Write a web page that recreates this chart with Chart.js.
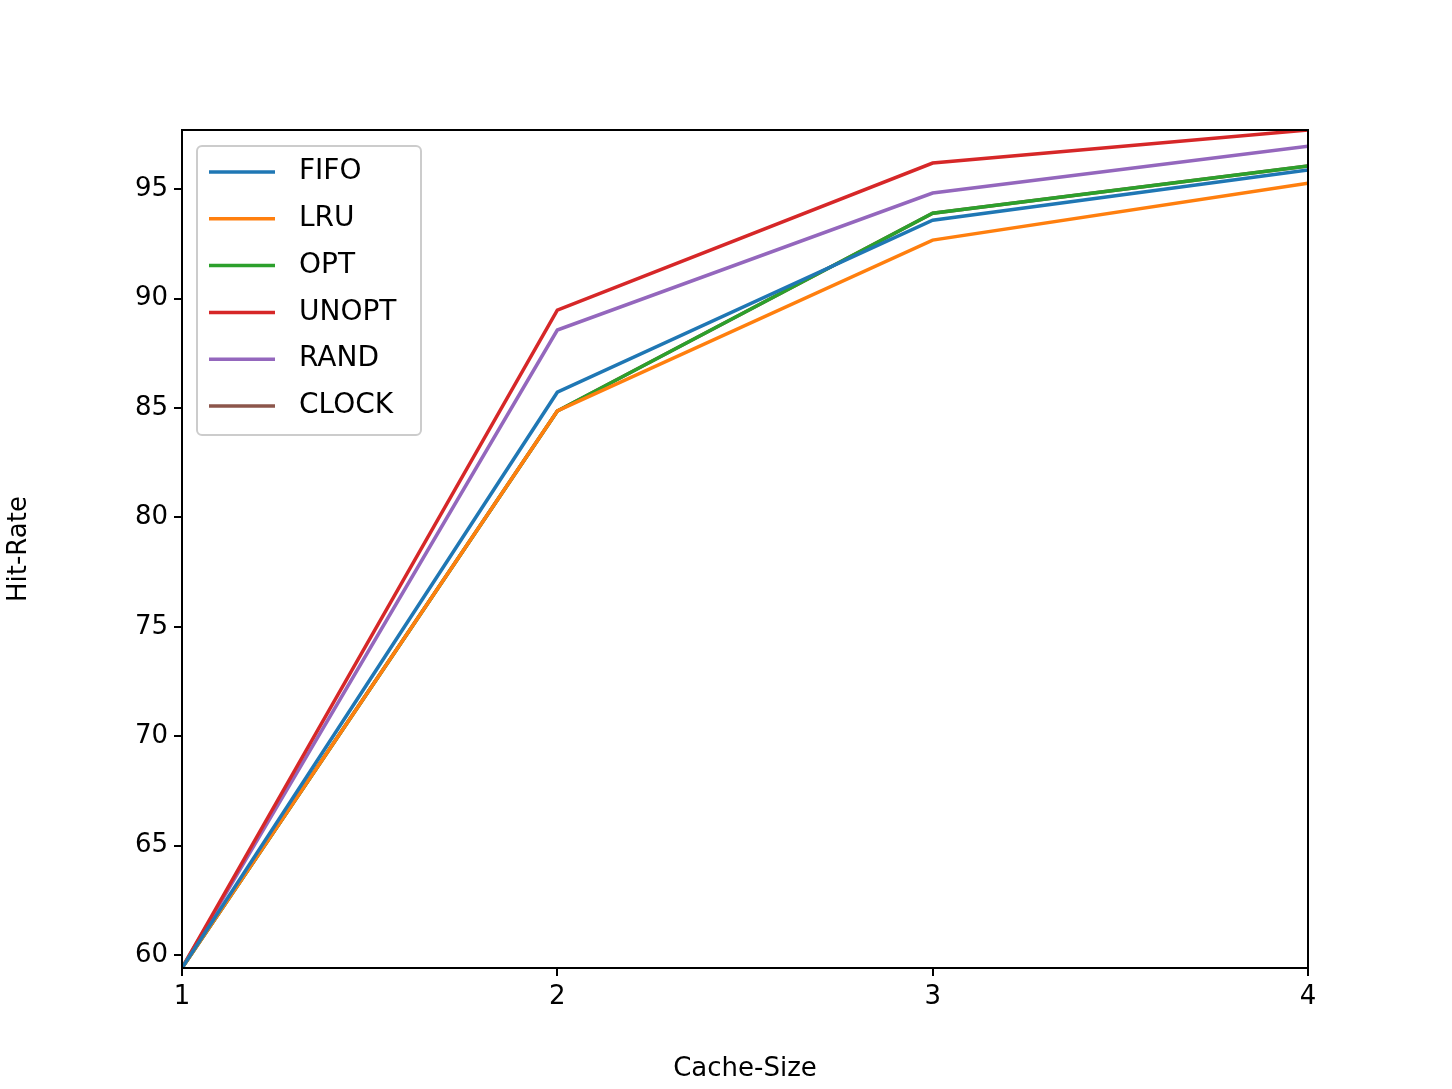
<!DOCTYPE html>
<html>
<head>
<meta charset="utf-8">
<script src="https://cdn.jsdelivr.net/npm/chart.js@4"></script>
<style>
  html, body { margin: 0; padding: 0; background: #fff; }
  #wrap { width: 1452px; height: 1089px; }
</style>
</head>
<body>
<div id="wrap"><canvas id="myChart"></canvas></div>
<script>
// ---------- data ----------
const cacheSizes = [1, 2, 3, 4];
const fifo  = [59.41, 85.72, 93.58, 95.87];
const lru   = [59.41, 84.86, 92.67, 95.27];
const opt   = [59.41, 84.86, 93.90, 96.05];
const unopt = [59.41, 89.47, 96.19, 97.70];
const rand  = [59.41, 88.56, 94.82, 96.96];
const clock = [59.41, 84.86, 93.90, 96.05];
const yTicks = [60, 65, 70, 75, 80, 85, 90, 95];

const seriesNames = ['FIFO', 'LRU', 'OPT', 'UNOPT', 'RAND', 'CLOCK'];
const seriesData = [fifo, lru, opt, unopt, rand, clock];
const colors = ['#1f77b4', '#ff7f0e', '#2ca02c', '#d62728', '#9467bd', '#8c564b'];

const FONT = 'DejaVu Sans';

// frame + legend drawn inside the plot area
const framePlugin = {
  id: 'frame',
  afterDraw(chart) {
    const { ctx, chartArea: a } = chart;
    ctx.save();
    ctx.strokeStyle = '#000';
    ctx.lineWidth = 2;
    ctx.strokeRect(a.left, a.top, a.right - a.left, a.bottom - a.top);

    // legend box
    const bx = a.left + 15, by = a.top + 16, bw = 224, bh = 289;
    ctx.fillStyle = 'rgba(255,255,255,0.8)';
    ctx.strokeStyle = '#cccccc';
    ctx.lineWidth = 2;
    ctx.beginPath();
    ctx.roundRect(bx, by, bw, bh, 5);
    ctx.fill();
    ctx.stroke();
    ctx.font = '28px "' + FONT + '"';
    ctx.textBaseline = 'middle';
    chart.data.datasets.forEach((ds, i) => {
      const y = by + 26 + i * 46.8;
      ctx.strokeStyle = ds.borderColor;
      ctx.lineWidth = 3.5;
      ctx.beginPath();
      ctx.moveTo(bx + 12, y);
      ctx.lineTo(bx + 78, y);
      ctx.stroke();
      ctx.fillStyle = '#000';
      ctx.fillText(ds.label, bx + 102, y);
    });
    ctx.restore();
  },
};

const ctx = document.getElementById('myChart').getContext('2d');
new Chart(ctx, {
  type: 'line',
  data: {
    datasets: seriesNames.map((name, i) => ({
      label: name,
      data: cacheSizes.map((x, j) => ({ x: x, y: seriesData[i][j] })),
      borderColor: colors[i],
      backgroundColor: colors[i],
      borderWidth: 3.5,
      pointRadius: 0,
      tension: 0,
    })),
  },
  options: {
    responsive: true,
    maintainAspectRatio: false,
    animation: false,
    layout: { padding: { left: 0, right: 144, top: 130, bottom: 0 } },
    plugins: { legend: { display: false }, tooltip: { enabled: false } },
    scales: {
      x: {
        type: 'linear',
        min: 1,
        max: 4,
        afterBuildTicks: (s) => { s.ticks = cacheSizes.map((v) => ({ value: v })); },
        afterFit: (s) => { s.height = 121; },
        grid: { drawOnChartArea: false, tickLength: 8, color: '#000', lineWidth: 2 },
        border: { display: false },
        ticks: { color: '#000', font: { family: FONT, size: 26 }, padding: 6, maxRotation: 0 },
        title: { display: true, text: 'Cache-Size', color: '#000', font: { family: FONT, size: 26 }, padding: { top: 8 } },
      },
      y: {
        min: 59.41,
        max: 97.7,
        afterBuildTicks: (s) => { s.ticks = yTicks.map((v) => ({ value: v })); },
        afterFit: (s) => { s.width = 182; },
        grid: { drawOnChartArea: false, tickLength: 8, color: '#000', lineWidth: 2 },
        border: { display: false },
        ticks: { color: '#000', font: { family: FONT, size: 26 }, padding: 6 },
        title: { display: true, text: 'Hit-Rate', color: '#000', font: { family: FONT, size: 26 }, padding: { bottom: 10 } },
      },
    },
  },
  plugins: [framePlugin],
});
</script>
</body>
</html>
